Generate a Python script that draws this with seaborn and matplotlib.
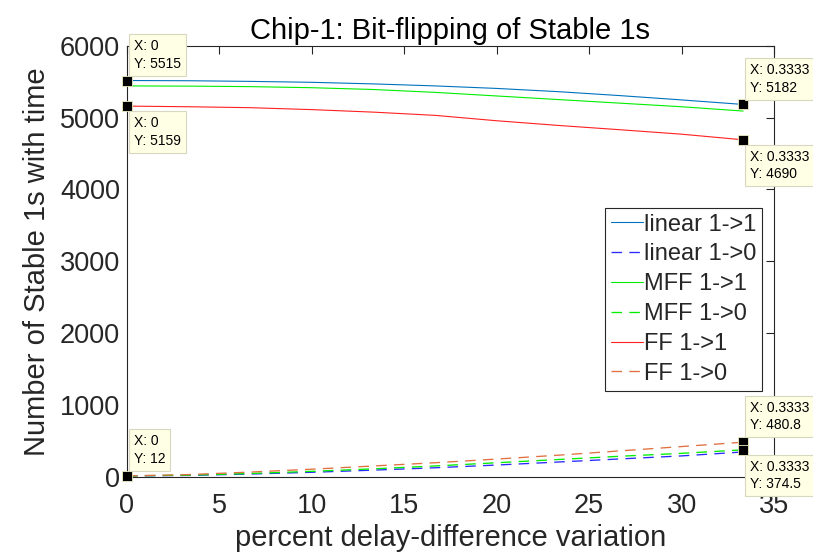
import matplotlib
matplotlib.use("Agg")
import matplotlib.pyplot as plt
import seaborn as sns
import pandas as pd

# delay-difference variation (fraction) at each measurement step
x_frac = [0.0, 0.0333, 0.0667, 0.1, 0.1333, 0.1667, 0.2, 0.2333, 0.2667, 0.3, 0.3333]

# stable 1s that stay 1 / flip to 0
linear_11 = [5515, 5512, 5503, 5490, 5468, 5440, 5405, 5360, 5305, 5245, 5182]
linear_10 = [12, 18, 38, 62, 92, 125, 163, 205, 248, 290, 345]
mff_11 = [5440, 5437, 5430, 5415, 5390, 5350, 5300, 5250, 5200, 5150, 5090]
mff_10 = [12, 22, 45, 75, 110, 150, 195, 240, 285, 326, 374.5]
ff_11 = [5159, 5150, 5137, 5110, 5075, 5030, 4955, 4890, 4830, 4768, 4690]
ff_10 = [12, 30, 65, 105, 150, 195, 246, 300, 360, 420, 480.8]

series_names = ["linear 1->1", "linear 1->0", "MFF 1->1", "MFF 1->0", "FF 1->1", "FF 1->0"]
series_values = [linear_11, linear_10, mff_11, mff_10, ff_11, ff_10]
series_colors = ["#0072BD", "#2a2aff", "#00ee00", "#00ee00", "#ff2020", "#E0703F"]
series_dashed = [False, True, False, True, False, True]

# data tips: (series index, point index, placement)
tips = [(0, 0, "above"), (4, 0, "below"), (0, 10, "above"), (4, 10, "below"),
        (1, 0, "above"), (5, 10, "above"), (3, 10, "below")]

x_pct = [v * 100 for v in x_frac]

sns.set_theme(style="white")
plt.rcParams["font.family"] = ["Liberation Sans", "DejaVu Sans"]

fig = plt.figure(figsize=(8.13, 5.55), dpi=100)
ax = fig.add_axes([0.1562, 0.141, 0.7958, 0.7767])

for name, vals, col, dashed in zip(series_names, series_values, series_colors, series_dashed):
    df = pd.DataFrame({"x": x_pct, "y": vals})
    if dashed:
        kw = dict(linestyle=(0, (8.0, 5.5)), linewidth=0.95)
    else:
        kw = dict(linewidth=0.8)
    sns.lineplot(data=df, x="x", y="y", ax=ax, color=col, legend=False, **kw)
series_lines = list(ax.get_lines())

ax.set_xlim(0, 35)
ax.set_ylim(0, 6000)
ax.set_xticks(range(0, 36, 5))
ax.set_yticks(range(0, 6001, 1000))

tick_col = "#262626"
for s in ax.spines.values():
    s.set_color(tick_col)
    s.set_linewidth(0.8)
ax.tick_params(axis="both", which="both", direction="in", length=6, width=0.8,
               top=True, right=True, colors=tick_col, labelsize=19.5,
               labelcolor=tick_col)
ax.tick_params(axis="x", pad=12)
ax.tick_params(axis="y", pad=5)

ax.set_title("Chip-1: Bit-flipping of Stable 1s", fontsize=21, color="black", pad=5)
ax.set_xlabel("percent delay-difference variation", fontsize=21, color=tick_col, labelpad=3)
ax.set_ylabel("Number of Stable 1s with time", fontsize=21, color=tick_col, labelpad=6)

leg = ax.legend(series_lines, series_names, loc="lower right",
                bbox_to_anchor=(0.9815, 0.20), fontsize=17,
                frameon=True, fancybox=False, framealpha=1, edgecolor="#262626",
                handlelength=1.35, handletextpad=0.05, borderpad=0.25,
                labelspacing=0.33, borderaxespad=0)
leg.get_frame().set_linewidth(0.8)

# data tips
for si, pi, where in tips:
    xv = x_pct[pi]
    yv = series_values[si][pi]
    ax.plot([xv], [yv], marker="s", markersize=7.5, color="black",
            markeredgecolor="#f0f0c0", markeredgewidth=0.6, clip_on=False,
            linestyle="none", zorder=5)
    label = f"X: {x_frac[pi]:g}\nY: {yv:g}"
    offset = (5, 7) if where == "above" else (5, -7)
    va = "bottom" if where == "above" else "top"
    ax.annotate(label, xy=(xv, yv), xytext=offset, textcoords="offset points",
                ha="left", va=va, fontsize=10, color="black", zorder=6,
                annotation_clip=False, linespacing=1.35,
                bbox=dict(boxstyle="square,pad=0.35", fc="#ffffe6", ec="#d8d8c0", lw=0.8))

fig.savefig("out.png", dpi=100)
